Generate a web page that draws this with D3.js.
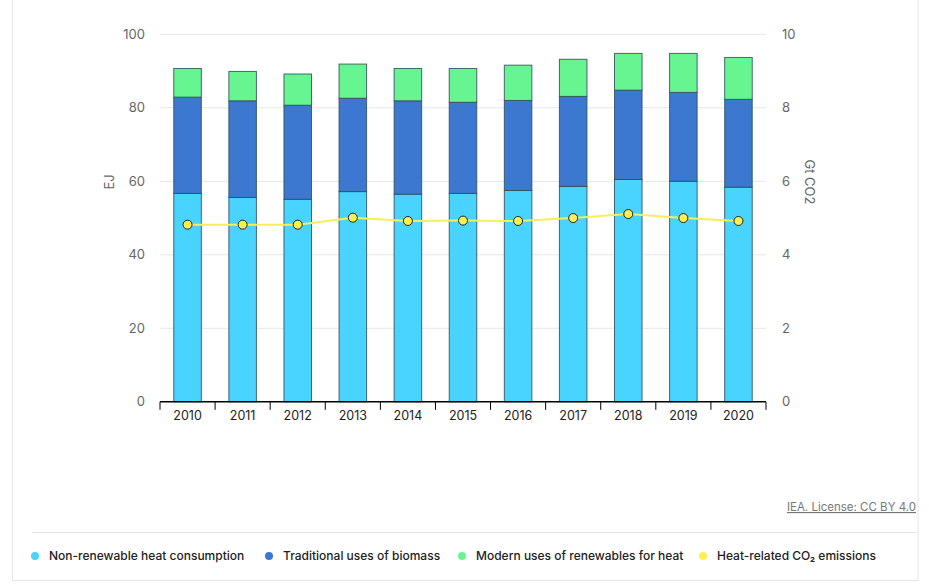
<!DOCTYPE html>
<html>
<head>
<meta charset="utf-8">
<script src="https://cdn.jsdelivr.net/npm/d3@7"></script>
<style>
  body { margin: 0; background: #fff; font-family: Inter, "Open Sans", sans-serif; }
  svg { display: block; }
</style>
</head>
<body>
<div id="vis"></div>
<script>
// Data
const years = ['2010', '2011', '2012', '2013', '2014', '2015', '2016', '2017', '2018', '2019', '2020'];
const nonRenewable = [56.7, 55.6, 55.1, 57.2, 56.5, 56.7, 57.5, 58.6, 60.5, 60.0, 58.4];
const traditional = [26.2, 26.3, 25.6, 25.4, 25.4, 24.8, 24.5, 24.5, 24.3, 24.2, 23.9];
const modern = [7.8, 8.0, 8.5, 9.3, 8.8, 9.2, 9.6, 10.1, 10.0, 10.6, 11.4];
const co2 = [4.82, 4.82, 4.82, 5.01, 4.92, 4.93, 4.92, 5.0, 5.11, 5.0, 4.92];
const leftTicks = [0, 20, 40, 60, 80, 100];
const rightTicks = [0, 2, 4, 6, 8, 10];

const seriesKeys = ['nonRenewable', 'traditional', 'modern'];
const colors = { nonRenewable: '#48d4ff', traditional: '#3c78d0', modern: '#67f591', co2: '#fff04f' };
const legendItems = [
  { label: 'Non-renewable heat consumption', color: colors.nonRenewable },
  { label: 'Traditional uses of biomass', color: colors.traditional },
  { label: 'Modern uses of renewables for heat', color: colors.modern },
  { label: 'Heat-related CO\u2082 emissions', color: colors.co2 }
];

const W = 929, H = 585;
const margin = { top: 34.3, left: 160 };
const width = 766 - margin.left;
const height = 401.8 - margin.top;

const svg = d3.select('#vis').append('svg')
  .attr('width', W).attr('height', H);

// card border
svg.append('rect')
  .attr('x', 12.5).attr('y', -5).attr('width', 905.5).attr('height', 585.5)
  .attr('fill', 'none').attr('stroke', '#e6e6e6');

const g = svg.append('g').attr('transform', `translate(${margin.left},${margin.top})`);

const table = years.map((y, i) => ({ year: y, nonRenewable: nonRenewable[i], traditional: traditional[i], modern: modern[i], co2: co2[i] }));
const stacked = d3.stack().keys(seriesKeys)(table);

const x = d3.scaleBand().domain(years).range([0, width]).paddingInner(0.5).paddingOuter(0.25);
const y = d3.scaleLinear().domain([0, 100]).range([height, 0]);
const y2 = d3.scaleLinear().domain([0, 10]).range([height, 0]);

// gridlines
g.selectAll('.grid').data(leftTicks.slice(1)).join('line')
  .attr('class', 'grid')
  .attr('x1', 0).attr('x2', width)
  .attr('y1', d => y(d)).attr('y2', d => y(d))
  .attr('stroke', '#e6e6e6');

// left axis labels
g.selectAll('.ltick').data(leftTicks).join('text')
  .attr('class', 'ltick')
  .attr('x', -15).attr('y', d => y(d)).attr('dy', '0.35em')
  .attr('text-anchor', 'end')
  .attr('fill', '#666').style('font-size', '13px')
  .text(d => d);

// right axis labels
g.selectAll('.rtick').data(rightTicks).join('text')
  .attr('class', 'rtick')
  .attr('x', width + 16).attr('y', d => y2(d)).attr('dy', '0.35em')
  .attr('text-anchor', 'start')
  .attr('fill', '#666').style('font-size', '13px')
  .text(d => d);

// axis titles
g.append('text')
  .attr('transform', `translate(${109 - margin.left},${182 - margin.top}) rotate(-90)`)
  .attr('text-anchor', 'middle').attr('dy', '0.35em')
  .attr('fill', '#666').style('font-size', '13px')
  .text('EJ');
g.append('text')
  .attr('transform', `translate(${810 - margin.left},${182 - margin.top}) rotate(90)`)
  .attr('text-anchor', 'middle').attr('dy', '0.35em')
  .attr('fill', '#666').style('font-size', '13px')
  .text('Gt CO2');

// stacked bars
g.selectAll('.layer').data(stacked).join('g')
  .attr('class', 'layer')
  .attr('fill', d => colors[d.key])
  .selectAll('rect').data(d => d).join('rect')
  .attr('x', d => x(d.data.year))
  .attr('y', d => y(d[1]))
  .attr('width', x.bandwidth())
  .attr('height', d => y(d[0]) - y(d[1]))
  .attr('stroke', '#2f4f5a')
  .attr('stroke-opacity', 0.85)
  .attr('stroke-width', 1);

// x axis
const xAxis = g.append('g').attr('transform', `translate(0,${height})`);
xAxis.append('line').attr('x1', 0).attr('x2', width).attr('stroke', '#000').attr('stroke-width', 1.5);
const step = x.step();
xAxis.selectAll('.xt').data(d3.range(years.length + 1)).join('line')
  .attr('class', 'xt')
  .attr('x1', i => i * step).attr('x2', i => i * step)
  .attr('y1', 0).attr('y2', 8)
  .attr('stroke', '#000');
xAxis.selectAll('.xl').data(years).join('text')
  .attr('class', 'xl')
  .attr('x', d => x(d) + x.bandwidth() / 2).attr('y', 9).attr('dy', '0.71em')
  .attr('text-anchor', 'middle')
  .attr('fill', '#222').style('font-size', '12.5px')
  .text(d => d);

// CO2 line
const line = d3.line().x(d => x(d.year) + x.bandwidth() / 2).y(d => y2(d.co2));
g.append('path').datum(table)
  .attr('d', line)
  .attr('fill', 'none').attr('stroke', '#f7ee5c').attr('stroke-width', 2);
g.selectAll('.pt').data(table).join('circle')
  .attr('class', 'pt')
  .attr('cx', d => x(d.year) + x.bandwidth() / 2)
  .attr('cy', d => y2(d.co2))
  .attr('r', 4.5)
  .attr('fill', colors.co2).attr('stroke', '#222').attr('stroke-width', 1);

// credit
svg.append('text')
  .attr('x', 916).attr('y', 511)
  .attr('text-anchor', 'end')
  .attr('fill', '#777').style('font-size', '11.5px')
  .style('text-decoration', 'underline')
  .text('IEA. License: CC BY 4.0');

// separator
svg.append('line')
  .attr('x1', 32).attr('x2', 916).attr('y1', 532.5).attr('y2', 532.5)
  .attr('stroke', '#e3e3e3');

// legend
const legendX = [35, 269, 462, 703];
const lg = svg.selectAll('.legend').data(legendItems).join('g')
  .attr('class', 'legend')
  .attr('transform', (d, i) => `translate(${legendX[i]},556)`);
lg.append('circle').attr('r', 4).attr('fill', d => d.color);
lg.append('text')
  .attr('x', 14).attr('dy', '0.35em')
  .attr('fill', '#222').style('font-size', '12px').style('font-weight', 500)
  .text(d => d.label);
</script>
</body>
</html>
